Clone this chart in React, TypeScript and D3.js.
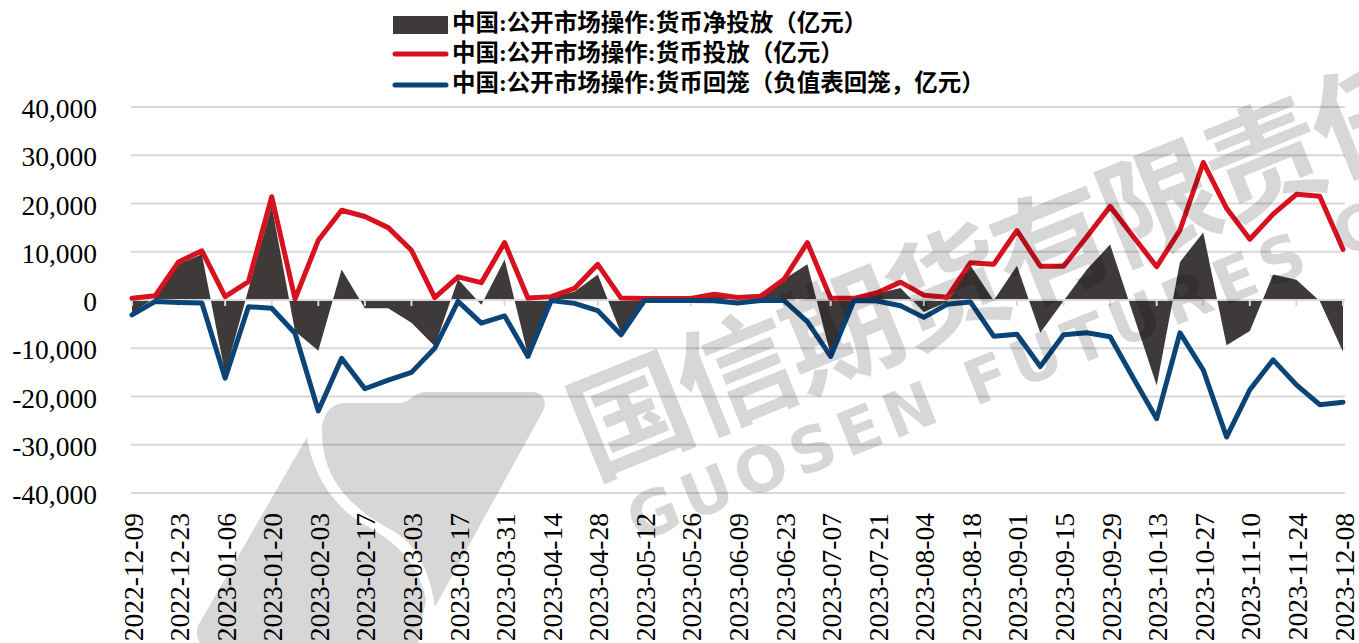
import React from "react";
import * as d3 from "d3";

const dates: string[] = [
  "2022-12-09","2022-12-16","2022-12-23","2022-12-30","2023-01-06","2023-01-13","2023-01-20","2023-01-27",
  "2023-02-03","2023-02-10","2023-02-17","2023-02-24","2023-03-03","2023-03-10","2023-03-17","2023-03-24",
  "2023-03-31","2023-04-07","2023-04-14","2023-04-21","2023-04-28","2023-05-05","2023-05-12","2023-05-19",
  "2023-05-26","2023-06-02","2023-06-09","2023-06-16","2023-06-23","2023-06-30","2023-07-07","2023-07-14",
  "2023-07-21","2023-07-28","2023-08-04","2023-08-11","2023-08-18","2023-08-25","2023-09-01","2023-09-08",
  "2023-09-15","2023-09-22","2023-09-29","2023-10-06","2023-10-13","2023-10-20","2023-10-27","2023-11-03",
  "2023-11-10","2023-11-17","2023-11-24","2023-12-01","2023-12-08"
];

// 货币净投放
const netInjection: number[] = [
  -2700, 500, 7400, 9500, -15300, 2200, 19500, -6500,
  -10500, 6300, -1700, -1700, -4700, -9600, 4300, -1000,
  8400, -11400, 600, 1700, 5300, -6900, 300, 200,
  200, 1100, -200, 800, 4300, 7400, -11400, 350,
  1350, 2500, -2500, -400, 7200, -100, 7100, -6800,
  -200, 6300, 11500, -3100, -17700, 7900, 14000, -9400,
  -6400, 5300, 4200, -200, -10700
];

// 货币投放
const injection: number[] = [
  350, 900, 7900, 10200, 700, 3800, 21400, 200,
  12400, 18600, 17300, 15000, 10300, 500, 4800, 3600,
  11900, 400, 700, 2400, 7400, 400, 300, 300,
  300, 1200, 500, 800, 4300, 11900, 350, 350,
  1500, 3700, 1000, 550, 7700, 7400, 14400, 7000,
  7000, 13100, 19400, 13100, 6900, 14500, 28500, 19000,
  12600, 17800, 21900, 21500, 10500
];

// 货币回笼（负值）
const withdrawal: number[] = [
  -3100, -300, -500, -600, -16200, -1400, -1700, -6900,
  -23000, -12100, -18400, -16600, -15000, -10000, -300, -4800,
  -3300, -11700, -100, -700, -2200, -7200, -100, -100,
  -100, -150, -600, -100, -100, -4500, -11700, -100,
  -200, -1200, -3600, -900, -400, -7500, -7100, -13800,
  -7200, -6800, -7600, -16200, -24600, -6800, -14500, -28400,
  -18600, -12400, -17600, -21700, -21200
];

const yTicks: number[] = [40000, 30000, 20000, 10000, 0, -10000, -20000, -30000, -40000];

const legendLabels: string[] = [
  "中国:公开市场操作:货币净投放（亿元）",
  "中国:公开市场操作:货币投放（亿元）",
  "中国:公开市场操作:货币回笼（负值表回笼，亿元）"
];

const W = 1359;
const H = 643;
const RED = "#d7111e";
const BLUE = "#0b4577";
const DARK = "#3e3a39";
const GRID = "#d9d9d9";
const SERIF = "'Liberation Serif', 'Times New Roman', serif";
const CJK = "'Liberation Serif', 'Noto Sans CJK SC', serif";

export default function App() {
  const x = d3.scalePoint<string>().domain(dates).range([132, 1343]);
  const y = d3.scaleLinear().domain([-40000, 40000]).range([493, 107]);
  const idx = dates.map((_, i) => i);

  const area = d3
    .area<number>()
    .x((i) => x(dates[i]) as number)
    .y0(() => y(0))
    .y1((i) => y(netInjection[i]));
  const lineOf = (vals: number[]) =>
    d3
      .line<number>()
      .x((i) => x(dates[i]) as number)
      .y((i) => y(vals[i]))(idx) as string;

  const labelDates = dates.filter((_, i) => i % 2 === 0);

  return (
    <svg
      width={W}
      height={H}
      style={{ position: "absolute", left: 0, top: 0, background: "#fff" }}
    >
      {/* gridlines */}
      {yTicks.map((t) => (
        <line key={t} x1={131} x2={1345} y1={y(t)} y2={y(t)} stroke={GRID} strokeWidth={2} />
      ))}
      {/* y labels */}
      {yTicks.map((t) => (
        <text
          key={"l" + t}
          x={97}
          y={y(t) + 1.5}
          textAnchor="end"
          dominantBaseline="central"
          fontFamily={SERIF}
          fontSize={27.5}
          fill="#000"
        >
          {d3.format(",")(t).replace("−", "-")}
        </text>
      ))}
      {/* area */}
      <path d={area(idx) as string} fill={DARK} />
      {/* zero axis */}
      <line x1={131} x2={1345} y1={y(0)} y2={y(0)} stroke={GRID} strokeWidth={2} />
      {labelDates.map((d) => (
        <line key={"t" + d} x1={x(d)} x2={x(d)} y1={y(0)} y2={y(0) + 6} stroke={GRID} strokeWidth={2} />
      ))}
      {/* lines */}
      <path d={lineOf(injection)} fill="none" stroke={RED} strokeWidth={5} strokeLinejoin="round" strokeLinecap="round" />
      <path d={lineOf(withdrawal)} fill="none" stroke={BLUE} strokeWidth={5} strokeLinejoin="round" strokeLinecap="round" />
      {/* x labels */}
      {labelDates.map((d) => (
        <text
          key={"x" + d}
          transform={`translate(${(x(d) as number) + 1},513) rotate(-90)`}
          textAnchor="end"
          dominantBaseline="central"
          fontFamily={SERIF}
          fontSize={27.5}
          fill="#000"
        >
          {d}
        </text>
      ))}
      {/* legend */}
      <rect x={393} y={16} width={55} height={18} fill={DARK} />
      <line x1={395} x2={446} y1={54} y2={54} stroke={RED} strokeWidth={5} strokeLinecap="round" />
      <line x1={395} x2={446} y1={85} y2={85} stroke={BLUE} strokeWidth={5} strokeLinecap="round" />
      {legendLabels.map((s, i) => (
        <text
          key={s}
          x={452}
          y={23 + i * 30}
          dominantBaseline="central"
          fontFamily={CJK}
          fontWeight={700}
          fontSize={23.5}
          fill="#000"
        >
          {s}
        </text>
      ))}
      {/* watermark */}
      <g fill="#000" opacity={0.16} style={{ pointerEvents: "none" }}>
        <path d="M307,437 C312,470 330,505 365,525 C395,542 418,560 426,600 L418,643 L200,643 C196,636 196,630 199,624 Z" />
        <path d="M322,425 C326,410 332,404 345,403 L400,403 C410,403 412,393 425,392 L532,392 C542,392 548,400 543,411 L435,607 C430,575 420,548 395,532 C345,505 320,475 322,425 Z" />
        <text
          transform="translate(592,478) rotate(-22)"
          fontFamily="'Noto Sans CJK SC', sans-serif"
          fontWeight={700}
          fontSize={118}
          letterSpacing={-4}
        >
          国信期货有限责任公司
        </text>
        <text
          transform="translate(638,543) rotate(-22)"
          fontFamily="'DejaVu Sans', sans-serif"
          fontWeight={700}
          fontSize={62}
          letterSpacing={7}
        >
          GUOSEN FUTURES CO
        </text>
      </g>
    </svg>
  );
}
